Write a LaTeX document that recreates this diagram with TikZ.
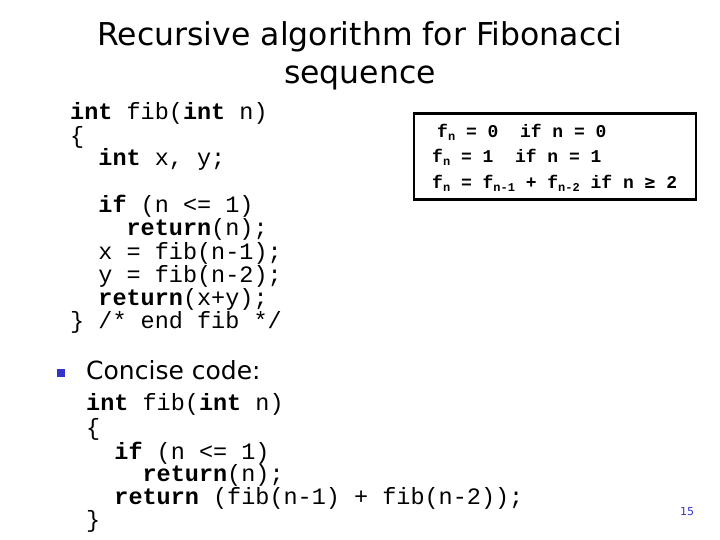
\documentclass[tikz,border=0pt]{standalone}
\usepackage{fontspec}
\setmainfont{DejaVu Sans}
\setmonofont{Liberation Mono}
\newfontfamily\symf{DejaVu Sans Mono}
\definecolor{bul}{RGB}{51,51,204}
\newcommand{\kw}[1]{\textbf{#1}}
\begin{document}
\begin{tikzpicture}[x=1pt,y=-1pt,
  code/.style={anchor=base west,inner sep=0pt,font=\ttfamily\fontsize{23.5}{23.5}\selectfont},
  boxt/.style={anchor=base west,inner sep=0pt,font=\ttfamily\bfseries\fontsize{18}{18}\selectfont},
  ttl/.style={inner sep=0pt,font=\fontsize{31.5}{31.5}\selectfont}]
\useasboundingbox (0,0) rectangle (720,540);
\node[ttl] (t1) at (360,37) {Recursive algorithm for Fibonacci};
\node[ttl] (t2) at (360,78) {sequence};
% upper code
\node[code] (a1) at (70,120) {\kw{int} fib(\kw{int} n)};
\node[code] (a2) at (70,144) {\{};
\node[code] (a3) at (70,166) {\ \ \kw{int} x, y;};
\node[code] (a5) at (70,213) {\ \ \kw{if} (n <= 1)};
\node[code] (a6) at (70,236) {\ \ \ \ \kw{return}(n);};
\node[code] (a7) at (70,259) {\ \ x = fib(n-1);};
\node[code] (a8) at (70,282) {\ \ y = fib(n-2);};
\node[code] (a9) at (70,305) {\ \ \kw{return}(x+y);};
\node[code] (a10) at (70,328) {\} /* end fib */};
% box
\node[draw,line width=2.5pt,minimum width=282pt,minimum height=86pt,inner sep=0pt] (box) at (555,156.5) {};
\node[boxt] (b1) at (437,138) {f\raisebox{-3pt}{\fontsize{12}{12}\selectfont n} = 0\ \ if n = 0};
\node[boxt] (b2) at (432,163) {f\raisebox{-3pt}{\fontsize{12}{12}\selectfont n} = 1\ \ if n = 1};
\node[boxt] (b3) at (432,189) {f\raisebox{-3pt}{\fontsize{12}{12}\selectfont n} = f\raisebox{-3pt}{\fontsize{12}{12}\selectfont n-1} + f\raisebox{-3pt}{\fontsize{12}{12}\selectfont n-2} if n {\symf ≥} 2};
% bullet
\node[fill=bul,minimum size=8pt,inner sep=0pt] (bu) at (61,373) {};
\node[anchor=base west,inner sep=0pt,font=\fontsize{25}{25}\selectfont] (cc) at (86,379) {Concise code:};
% lower code
\node[code] (c1) at (86,410) {\kw{int} fib(\kw{int} n)};
\node[code] (c2) at (86,435) {\{};
\node[code] (c3) at (86,459) {\ \ \kw{if} (n <= 1)};
\node[code] (c4) at (86,481) {\ \ \ \ \kw{return}(n);};
\node[code] (c5) at (86,504) {\ \ \kw{return} (fib(n-1) + fib(n-2));};
\node[code] (c6) at (86,527) {\}};
\node[inner sep=0pt,text=bul,font=\fontsize{11}{11}\selectfont] (pg) at (687,512) {15};
\end{tikzpicture}
\end{document}
